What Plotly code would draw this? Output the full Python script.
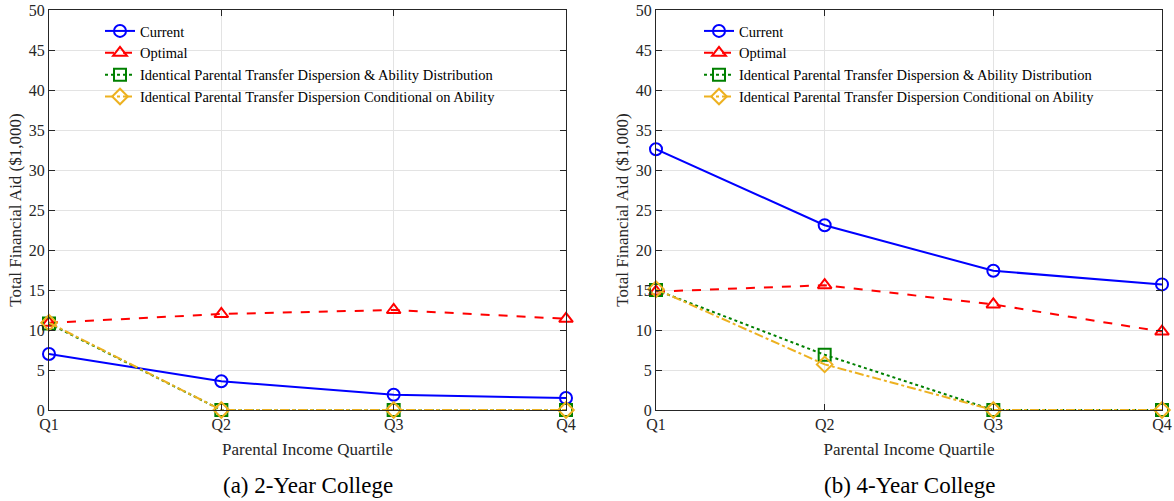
import plotly.graph_objects as go

quartiles = ["Q1", "Q2", "Q3", "Q4"]

two_current = [7.0, 3.6, 1.9, 1.5]
two_optimal = [10.9, 12.0, 12.5, 11.4]
two_identical_both = [10.8, 0.0, 0.0, 0.0]
two_identical_cond = [10.9, 0.0, 0.0, 0.0]

four_current = [32.6, 23.1, 17.4, 15.7]
four_optimal = [14.8, 15.6, 13.2, 9.8]
four_identical_both = [15.0, 6.9, 0.0, 0.0]
four_identical_cond = [15.1, 5.7, 0.0, 0.0]

series_names = [
    "Current",
    "Optimal",
    "Identical Parental Transfer Dispersion & Ability Distribution",
    "Identical Parental Transfer Dispersion Conditional on Ability",
]
colors = ["#0000FF", "#FF0000", "#008000", "#EDB120"]
dashes = ["solid", "dash", "dot", "dashdot"]
symbols = ["circle-open", "triangle-up-open", "square-open", "diamond-open"]
panel_titles = ["(a) 2-Year College", "(b) 4-Year College"]

FONT = "Liberation Serif"

fig = go.Figure()

panels = [
    [two_current, two_optimal, two_identical_both, two_identical_cond],
    [four_current, four_optimal, four_identical_both, four_identical_cond],
]

for p, data in enumerate(panels):
    xa = "x" if p == 0 else "x2"
    ya = "y" if p == 0 else "y2"
    lg = "legend" if p == 0 else "legend2"
    for i, vals in enumerate(data):
        fig.add_trace(go.Scatter(
            x=quartiles, y=vals, name=series_names[i], mode="lines+markers",
            line=dict(color=colors[i], width=2, dash=dashes[i]),
            marker=dict(symbol=symbols[i], size=12, color=colors[i],
                        line=dict(width=2, color=colors[i])),
            xaxis=xa, yaxis=ya, legend=lg, showlegend=True,
            cliponaxis=False,
        ))

axis_common = dict(
    showline=True, linecolor="#262626", linewidth=1, mirror="ticks",
    ticks="inside", ticklen=6, tickcolor="#262626",
    showgrid=True, gridcolor="#E3E3E3", gridwidth=1,
    zeroline=False, tickfont=dict(family=FONT, size=16, color="#262626"),
    automargin=False,
)

xdomains = [[49 / 1174, 566 / 1174], [656 / 1174, 1162 / 1174]]
ydomain = [1 - 410 / 501, 1 - 10 / 501]

xtitle = dict(text="Parental Income Quartile", font=dict(family=FONT, size=17, color="#262626"), standoff=10)
ytitle = dict(text="Total Financial Aid ($1,000)", font=dict(family=FONT, size=17, color="#262626"), standoff=2)

legend_common = dict(xanchor="left", yanchor="top", bgcolor="rgba(0,0,0,0)", borderwidth=0,
                     font=dict(family=FONT, size=14.5, color="black"), tracegroupgap=0,
                     itemwidth=30)

fig.update_layout(
    width=1174, height=501,
    margin=dict(l=0, r=0, t=0, b=0, autoexpand=False),
    paper_bgcolor="white", plot_bgcolor="white",
    font=dict(family=FONT, color="#262626"),
    xaxis=dict(domain=xdomains[0], anchor="y", range=[0, 3], title=xtitle, **axis_common),
    yaxis=dict(domain=ydomain, anchor="x", range=[0, 50], dtick=5, title=ytitle, **axis_common),
    xaxis2=dict(domain=xdomains[1], anchor="y2", range=[0, 3], title=xtitle, **axis_common),
    yaxis2=dict(domain=ydomain, anchor="x2", range=[0, 50], dtick=5, title=ytitle, **axis_common),
    legend=dict(x=100 / 1174, y=1 - 15 / 501, **legend_common),
    legend2=dict(x=699 / 1174, y=1 - 15 / 501, **legend_common),
)

for p in range(2):
    cx = (xdomains[p][0] + xdomains[p][1]) / 2
    fig.add_annotation(text=panel_titles[p], x=cx, y=1 - 485 / 501, xref="paper", yref="paper",
                       xanchor="center", yanchor="middle", showarrow=False,
                       font=dict(family=FONT, size=23, color="black"))

fig.write_html("out.html")
